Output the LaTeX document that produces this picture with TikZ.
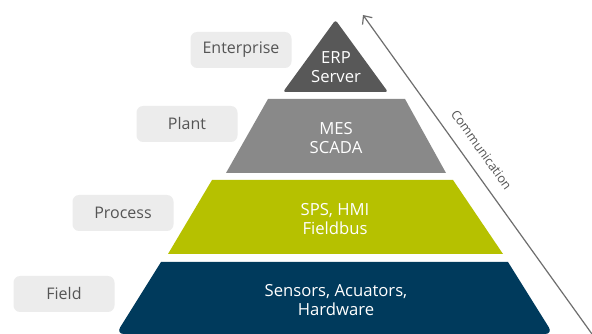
\documentclass[tikz,border=0pt]{standalone}
\usepackage{fontspec}
\setmainfont{Open Sans}
\usepackage{xcolor}
\usetikzlibrary{arrows.meta,positioning}
\definecolor{erpgray}{RGB}{88,88,88}
\definecolor{mesgray}{RGB}{137,137,137}
\definecolor{spsgreen}{RGB}{182,193,0}
\definecolor{fieldblue}{RGB}{0,58,92}
\definecolor{tagfill}{RGB}{236,236,236}
\definecolor{tagtext}{RGB}{85,85,85}
\definecolor{commgray}{RGB}{110,110,110}
\tikzset{tag/.style={fill=tagfill,rounded corners=5pt,minimum width=75.75pt,minimum height=27pt,
  inner sep=2pt,text=tagtext,font=\fontsize{12}{14}\selectfont},
  layer/.style={text=white,align=center,font=\fontsize{12.5}{14.5}\selectfont},
  comm/.style={{Straight Barb[length=5pt,width=9pt]}-{Straight Barb[length=5pt,width=9pt]},commgray,line width=0.9pt}}

\begin{document}
\begin{tikzpicture}[x=0.75pt,y=-0.75pt]
\useasboundingbox (0,0) rectangle (592,334);
\clip (0,0) rectangle (592,334);
\fill[white] (0,0) rectangle (592,334);
% pyramid layers
\fill[erpgray,rounded corners=2pt] (283,92) -- (335.5,20) -- (388,92) -- cycle;
\fill[mesgray] (268,99) -- (405,99) -- (446,173) -- (226,173) -- cycle;
\fill[spsgreen] (212,180) -- (453,180) -- (503,254) -- (168,254) -- cycle;
\fill[fieldblue] (161,262) -- (508,262) [rounded corners=6pt] -- (553,334) -- (116,334) [sharp corners] -- cycle;
\node[layer] (erp) at (336,67) {ERP\\Server};
\node[layer] (mes) at (336,138) {MES\\SCADA};
\node[layer] (sps) at (335,219) {SPS, HMI\\Fieldbus};
\node[layer] (hw) at (336,300) {Sensors, Acuators,\\Hardware};
% levels
\node[tag] (enterprise) at (241,50) {Enterprise};
\node[tag] (plant) at (187,124) {Plant};
\node[tag] (process) at (123,213) {Process};
\node[tag] (field) at (64,294) {Field};
% communication
\coordinate (ctop) at (363,15);
\coordinate (cbot) at (597,341);
\draw[comm] (ctop) -- node[sloped,above=6pt,pos=0.445,text=tagtext,font=\fontsize{9.5}{10}\selectfont] (commlbl) {Communication} (cbot);
\end{tikzpicture}
\end{document}
